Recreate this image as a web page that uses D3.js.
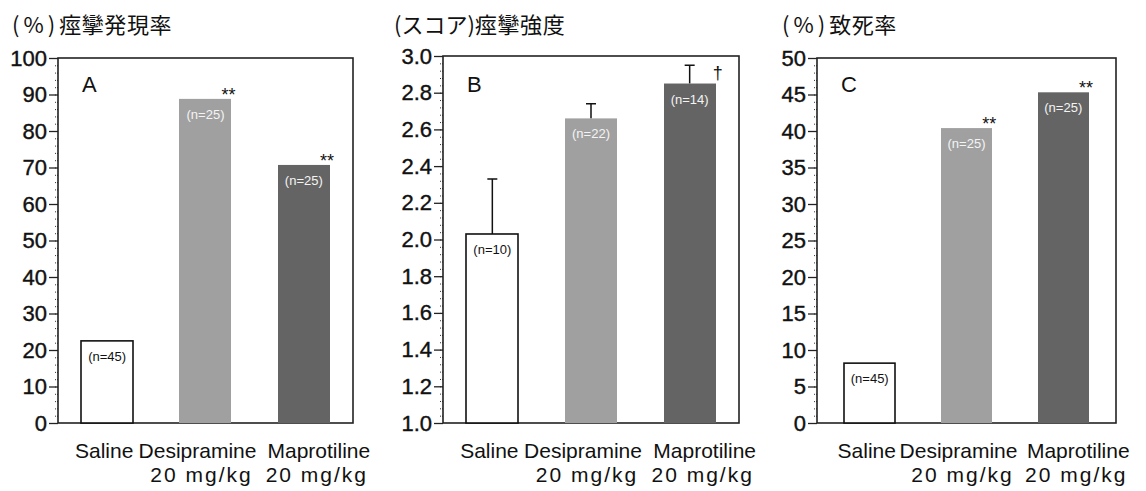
<!DOCTYPE html>
<html>
<head>
<meta charset="utf-8">
<script src="https://cdn.jsdelivr.net/npm/d3@7"></script>
<style>
  body { margin: 0; background: #fff; }
  text { font-family: "Liberation Sans", Arial, sans-serif; fill: #111; }
  .title { font-family: "Noto Sans CJK JP", sans-serif; font-size: 22px; }
</style>
</head>
<body>
<svg id="draw" width="1146" height="491"></svg>
<script>
// groups on the x axis
var categories = ["Saline", "Desipramine", "Maprotiline"];
var doseLabels = ["", "20 mg/kg", "20 mg/kg"];

// A: seizure incidence (%)
var seizureRate = [22.5, 88.8, 70.7];
var nA = [45, 25, 25];
var marksA = ["", "**", "**"];
var ticksA = [0, 10, 20, 30, 40, 50, 60, 70, 80, 90, 100];

// B: seizure score, mean + SE
var seizureScore = [2.03, 2.66, 2.85];
var scoreError = [0.30, 0.08, 0.10];
var nB = [10, 22, 14];
var marksB = ["", "", "\u2020"];
var ticksB = [1.0, 1.2, 1.4, 1.6, 1.8, 2.0, 2.2, 2.4, 2.6, 2.8, 3.0];

// C: lethality (%)
var lethality = [8.2, 40.4, 45.3];
var nC = [45, 25, 25];
var marksC = ["", "**", "**"];
var ticksC = [0, 5, 10, 15, 20, 25, 30, 35, 40, 45, 50];

var svg = d3.select("#draw");

var fills = ["#fff", "#a0a0a0", "#646464"];
var nColors = ["#111", "#f4f4f4", "#f4f4f4"];
var labelShift = [-3, -8, 15];

function panel(opt) {
  var g = svg.append("g");
  var width = opt.right - opt.left;
  var height = opt.bottom - opt.top;

  var x = d3.scaleBand()
    .domain(categories)
    .range([opt.left, opt.right])
    .paddingInner(0.47)
    .paddingOuter(opt.outer);

  var y = d3.scaleLinear()
    .domain(opt.domain)
    .range([opt.bottom, opt.top]);

  // title: unit prefix a bit wider, like the scanned font
  var t = g.append("text")
    .attr("class", "title")
    .attr("x", opt.titleX)
    .attr("y", 33);
  t.append("tspan").attr("letter-spacing", opt.prefixSpacing).text(opt.prefix);
  t.append("tspan").attr("letter-spacing", 0.6).text(opt.title);

  // minor ticks
  var step = (opt.ticks[1] - opt.ticks[0]) / 5;
  var minor = d3.range(opt.domain[0], opt.domain[1] + step / 2, step);
  g.append("g")
    .attr("transform", "translate(" + opt.left + ",0)")
    .call(d3.axisLeft(y).tickValues(minor).tickSize(4).tickFormat(""))
    .call(function(a) {
      a.select(".domain").remove();
      a.selectAll("line").attr("stroke", "#333").attr("stroke-dasharray", "1,1");
    });

  // major ticks
  g.append("g")
    .attr("transform", "translate(" + opt.left + ",0)")
    .call(d3.axisLeft(y).tickValues(opt.ticks).tickSize(9).tickPadding(2)
      .tickFormat(d3.format(opt.fmt)))
    .call(function(a) {
      a.select(".domain").remove();
      a.selectAll("line").attr("stroke", "#222").attr("stroke-width", 1.3);
      a.selectAll("text")
        .attr("font-size", 22)
        .attr("font-family", "Liberation Sans, Arial, sans-serif")
        .attr("fill", "#111")
        .attr("stroke", "#111")
        .attr("stroke-width", 0.4);
    });

  // frame
  g.append("rect")
    .attr("x", opt.left)
    .attr("y", opt.top)
    .attr("width", width)
    .attr("height", height)
    .attr("fill", "none")
    .attr("stroke", "#222")
    .attr("stroke-width", 1.6);

  g.append("text")
    .attr("x", opt.left + 24)
    .attr("y", 92)
    .attr("font-size", 22)
    .text(opt.letter);

  var data = opt.values.map(function(v, i) {
    return { cat: categories[i], value: v, err: opt.err ? opt.err[i] : 0, n: opt.n[i], mark: opt.marks[i], i: i };
  });

  // error bars drawn first so bars cover the lower half
  if (opt.err) {
    g.selectAll(".err")
      .data(data)
      .enter().append("path")
      .attr("class", "err")
      .attr("fill", "none")
      .attr("stroke", "#111")
      .attr("stroke-width", 1.5)
      .attr("d", function(d) {
        var cx = x(d.cat) + x.bandwidth() / 2;
        var yt = y(d.value + d.err);
        return "M" + cx + "," + y(d.value) + "V" + yt + "M" + (cx - 5) + "," + yt + "H" + (cx + 5);
      });
  }

  g.selectAll(".bar")
    .data(data)
    .enter().append("rect")
    .attr("class", "bar")
    .attr("x", function(d) { return Math.round(x(d.cat)); })
    .attr("y", function(d) { return y(d.value); })
    .attr("width", Math.round(x.bandwidth()))
    .attr("height", function(d) { return opt.bottom - y(d.value); })
    .attr("fill", function(d) { return fills[d.i]; })
    .attr("stroke", function(d) { return d.i == 0 ? "#111" : "none"; })
    .attr("stroke-width", 1.6);

  g.selectAll(".nlab")
    .data(data)
    .enter().append("text")
    .attr("class", "nlab")
    .attr("x", function(d) { return x(d.cat) + x.bandwidth() / 2; })
    .attr("y", function(d) { return y(d.value) + 20; })
    .attr("text-anchor", "middle")
    .attr("font-size", 13)
    .style("fill", function(d) { return nColors[d.i]; })
    .text(function(d) { return "(n=" + d.n + ")"; });

  g.selectAll(".mark")
    .data(data)
    .enter().append("text")
    .attr("class", "mark")
    .attr("x", function(d) { return x(d.cat) + x.bandwidth() - 3; })
    .attr("y", function(d) {
      return d.mark == "**" ? y(d.value) + 2 : y(d.value + d.err) + 14;
    })
    .attr("text-anchor", function(d) { return d.mark == "**" ? "middle" : "start"; })
    .attr("font-size", 18)
    .text(function(d) { return d.mark; });

  var lab = g.selectAll(".xlab")
    .data(data)
    .enter().append("text")
    .attr("class", "xlab")
    .attr("text-anchor", "middle")
    .attr("font-size", 21)
    .attr("transform", function(d) {
      return "translate(" + (x(d.cat) + x.bandwidth() / 2 + labelShift[d.i]) + ",458)";
    });
  lab.append("tspan")
    .attr("x", 0).attr("y", 0)
    .text(function(d) { return d.cat; });
  lab.append("tspan")
    .attr("x", function(d) { return d.i == 2 ? -2 : 4; }).attr("y", 24)
    .attr("letter-spacing", 2)
    .text(function(d) { return doseLabels[d.i]; });
}

panel({
  left: 58, right: 353, top: 58, bottom: 423, outer: 0.235,
  domain: [0, 100], ticks: ticksA, fmt: "d",
  prefix: "(%)", prefixSpacing: 4, title: "痙攣発現率", titleX: 12, letter: "A",
  values: seizureRate, n: nA, marks: marksA
});

panel({
  left: 443, right: 739, top: 56, bottom: 423, outer: 0.235,
  domain: [1.0, 3.0], ticks: ticksB, fmt: ".1f",
  prefix: "(スコア)", prefixSpacing: 0, title: "痙攣強度", titleX: 394, letter: "B",
  values: seizureScore, err: scoreError, n: nB, marks: marksB
});

panel({
  left: 817, right: 1116, top: 58, bottom: 423, outer: 0.28,
  domain: [0, 50], ticks: ticksC, fmt: "d",
  prefix: "(%)", prefixSpacing: 4, title: "致死率", titleX: 782, letter: "C",
  values: lethality, n: nC, marks: marksC
});
</script>
</body>
</html>
